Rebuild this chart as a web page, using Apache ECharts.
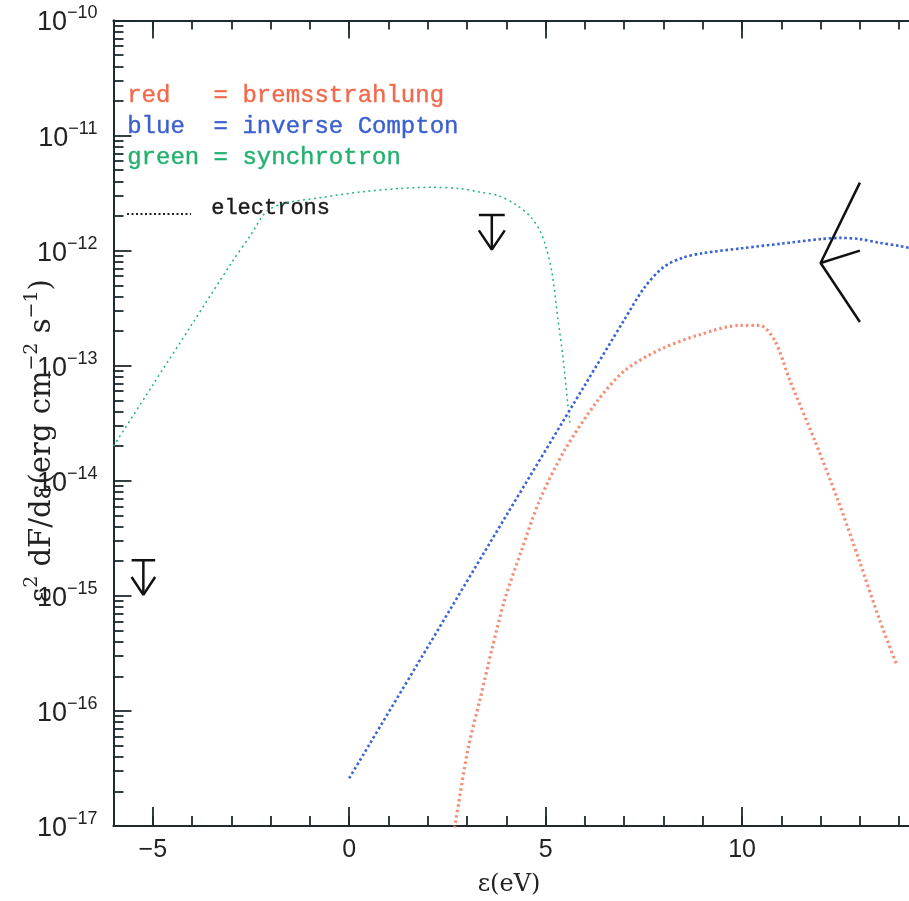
<!DOCTYPE html>
<html>
<head>
<meta charset="utf-8">
<script src="https://cdn.jsdelivr.net/npm/echarts@6/dist/echarts.min.js"></script>
<style>
  html, body { margin: 0; padding: 0; background: #fff; }
  #chart { width: 909px; height: 901px; }
</style>
</head>
<body>
<div id="chart"></div>
<script>
// Photon energy, log10 of epsilon in eV
var xMajorTicks = [-5, 0, 5, 10];
var xMinorTicks = [-6, -5, -4, -3, -2, -1, 0, 1, 2, 3, 4, 5, 6, 7, 8, 9, 10, 11, 12, 13, 14];
var yDecades = [1e-17, 1e-16, 1e-15, 1e-14, 1e-13, 1e-12, 1e-11, 1e-10];

// Synchrotron (green)
var synchX = [-6, -5, -4, -3, -2.5, -2.1, -1.6, -0.7, 0.3, 1.3, 2.1, 2.8, 3.3, 3.8, 4.25, 4.6, 4.85, 5.0, 5.16, 5.31, 5.44, 5.56, 5.62];
var synchY = [2.0e-14, 6.8e-14, 2.3e-13, 7.8e-13, 1.38e-12, 2.2e-12, 2.6e-12, 2.9e-12, 3.24e-12, 3.47e-12, 3.55e-12, 3.47e-12, 3.24e-12, 3.0e-12, 2.5e-12, 2.0e-12, 1.5e-12, 1.1e-12, 6.5e-13, 2.6e-13, 1.2e-13, 4.8e-14, 3.2e-14];

// Inverse Compton (blue)
var icX = [0, 2, 4, 6, 7, 7.5, 8, 8.5, 9, 10, 11, 12, 12.5, 13, 13.5, 14, 14.3];
var icY = [2.6e-17, 3.6e-16, 5.0e-15, 6.8e-14, 2.5e-13, 4.7e-13, 7.2e-13, 8.7e-13, 9.5e-13, 1.05e-12, 1.15e-12, 1.26e-12, 1.29e-12, 1.26e-12, 1.17e-12, 1.10e-12, 1.05e-12];

// Bremsstrahlung (red)
var bremX = [2.6, 2.69, 3.02, 3.33, 3.63, 3.96, 4.39, 4.85, 5.49, 6.33, 7.02, 7.91, 8.92, 9.94, 10.45, 10.83, 11.21, 11.85, 12.44, 12.99, 13.50, 13.94];
var bremY = [7.0e-18, 1.0e-17, 4.6e-17, 1.26e-16, 3.4e-16, 9.3e-16, 2.5e-15, 6.8e-15, 1.86e-14, 5.0e-14, 9.1e-14, 1.38e-13, 1.86e-13, 2.24e-13, 2.24e-13, 1.66e-13, 7.6e-14, 2.24e-14, 6.8e-15, 2.0e-15, 6.2e-16, 2.5e-16];

// Upper limits: position, bar level, arrow tip level, wing level, half width of the bar
var limitX = [-5.24, 3.63];
var limitTop = [2.04e-15, 2.04e-12];
var limitTip = [1.02e-15, 1.02e-12];
var limitWing = [1.46e-15, 1.5e-12];
var limitHalfWidth = [0.3, 0.33];

// High-energy spectrum bow tie
var bowX = [13.0, 12.0, 13.0];
var bowY = [3.9e-12, 7.8e-13, 2.4e-13];
var bowMidX = [12.0, 13.0];
var bowMidY = [7.8e-13, 1.0e-12];

function zip(xs, ys) { return xs.map(function (x, i) { return [x, ys[i]]; }); }

var yMinor = [];
for (var e = -17; e < -10; e++) {
  for (var k = 2; k <= 9; k++) yMinor.push(k * Math.pow(10, e));
}

var axisColor = '#1e2a2e';
var tickFont = 'Liberation Sans, Arial, sans-serif';

function blackPath(points) {
  return {
    type: 'line', data: points, symbol: 'none', silent: true,
    lineStyle: { color: '#111', width: 2.5 }, animation: false, z: 5
  };
}

var series = [
  {
    name: 'synchrotron', type: 'line', data: zip(synchX, synchY), symbol: 'none', smooth: 0.3,
    lineStyle: { color: '#1fb47a', width: 1.5, type: [2, 3.5] }
  },
  {
    name: 'inverse Compton', type: 'line', data: zip(icX, icY), symbol: 'none', smooth: 0.3,
    lineStyle: { color: '#3a62d4', width: 2.6, type: [2.6, 2.6] }
  },
  {
    name: 'bremsstrahlung', type: 'line', data: zip(bremX, bremY), symbol: 'none', smooth: 0.3,
    lineStyle: { color: '#f27a5e', width: 3.2, type: [2.4, 3], opacity: 0.85 }
  }
];

limitX.forEach(function (x, i) {
  var hw = limitHalfWidth[i];
  series.push(blackPath([[x - hw, limitTop[i]], [x + hw, limitTop[i]]]));
  series.push(blackPath([[x, limitTop[i]], [x, limitTip[i]]]));
  series.push(blackPath([[x - hw, limitWing[i]], [x, limitTip[i]], [x + hw, limitWing[i]]]));
});
series.push(blackPath(zip(bowX, bowY)));
series.push(blackPath(zip(bowMidX, bowMidY)));

function xAxisDef(pos, ticks, len, labels) {
  return {
    type: 'value', position: pos, min: -6, max: 14.25,
    axisLine: { show: true, onZero: false, lineStyle: { color: axisColor, width: 1.8 } },
    axisTick: { show: true, inside: true, length: len, customValues: ticks, lineStyle: { color: axisColor, width: 1.8 } },
    axisLabel: labels ? {
      show: true, customValues: xMajorTicks, margin: 12,
      fontFamily: tickFont, fontSize: 25, color: '#222',
      formatter: function (v) { return v < 0 ? '\u2212' + Math.abs(v) : String(v); }
    } : { show: false },
    splitLine: { show: false }
  };
}

function yAxisDef(ticks, len, labels) {
  return {
    type: 'log', logBase: 10, min: 1e-17, max: 1e-10, position: 'left',
    axisLine: { show: true, onZero: false, lineStyle: { color: axisColor, width: 1.8 } },
    axisTick: { show: true, inside: true, length: len, customValues: ticks, lineStyle: { color: axisColor, width: 1.8 } },
    axisLabel: labels ? {
      show: true, customValues: yDecades, margin: 16,
      formatter: function (v) {
        var n = Math.round(Math.log10(v));
        return '{b|10}{s|\u2212' + Math.abs(n) + '}';
      },
      rich: {
        b: { fontFamily: tickFont, fontSize: 27, color: '#222', lineHeight: 32, verticalAlign: 'bottom' },
        s: { fontFamily: tickFont, fontSize: 18, color: '#222', lineHeight: 32, verticalAlign: 'top' }
      }
    } : { show: false },
    splitLine: { show: false }
  };
}

var legendFont = '24px "Liberation Mono", monospace';

var chart = echarts.init(document.getElementById('chart'), null, { renderer: 'canvas' });
chart.setOption({
  backgroundColor: '#ffffff',
  animation: false,
  grid: { left: 113.5, top: 20.5, right: 0, bottom: 75, containLabel: false, outerBoundsMode: 'none' },
  xAxis: [
    xAxisDef('bottom', xMajorTicks, 19, true),
    xAxisDef('bottom', xMinorTicks, 10, false),
    xAxisDef('top', xMajorTicks, 18, false),
    xAxisDef('top', xMinorTicks, 9, false)
  ],
  yAxis: [
    yAxisDef(yDecades, 18, true),
    yAxisDef(yMinor, 10, false)
  ],
  series: series,
  graphic: [
    {
      type: 'text', left: 127, top: 83,
      style: { text: 'red   = bremsstrahlung', font: legendFont, fill: '#f2694c', stroke: '#f2694c', lineWidth: 0.4 }
    },
    {
      type: 'text', left: 127, top: 114,
      style: { text: 'blue  = inverse Compton', font: legendFont, fill: '#3a5fcf', stroke: '#3a5fcf', lineWidth: 0.4 }
    },
    {
      type: 'text', left: 127, top: 145,
      style: { text: 'green = synchrotron', font: legendFont, fill: '#22b06e', stroke: '#22b06e', lineWidth: 0.4 }
    },
    {
      type: 'line', shape: { x1: 127, y1: 214, x2: 191, y2: 214 },
      style: { stroke: '#222', lineWidth: 2, lineDash: [2, 2.5] }
    },
    {
      type: 'text', left: 211, top: 197,
      style: { text: 'electrons', font: '22px "Liberation Mono", monospace', fill: '#1a1a1a', stroke: '#1a1a1a', lineWidth: 0.4 }
    },
    {
      type: 'text', x: 509, y: 885,
      style: {
        text: '\u03b5(eV)', font: '24px "DejaVu Serif", serif', fill: '#222',
        align: 'center', verticalAlign: 'middle'
      }
    },
    {
      type: 'text', x: 40, y: 441, rotation: Math.PI / 2,
      style: {
        text: '{a|\u03b5}{s|2}{a| dF/d\u03b5(erg cm}{s|\u22122}{a| s}{s|\u22121}{a|)}',
        align: 'center', verticalAlign: 'middle',
        rich: {
          a: { font: '29px "DejaVu Serif", serif', fill: '#222', lineHeight: 34, verticalAlign: 'bottom' },
          s: { font: '19px "DejaVu Serif", serif', fill: '#222', lineHeight: 34, verticalAlign: 'top' }
        }
      }
    }
  ]
});
</script>
</body>
</html>
